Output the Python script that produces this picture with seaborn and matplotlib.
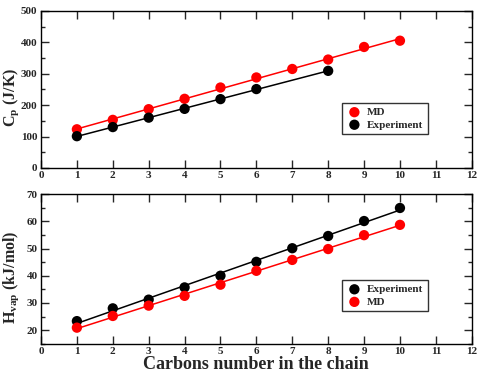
import numpy as np
import matplotlib
matplotlib.use('Agg')
import matplotlib.pyplot as plt
from matplotlib.ticker import MultipleLocator
import seaborn as sns

# heat capacity
cp_md_x = [1, 2, 3, 4, 5, 6, 7, 8, 9, 10]
cp_md = [123, 153, 187, 220, 256, 288, 315, 345, 385, 405]
cp_exp_x = [1, 2, 3, 4, 5, 6, 8]
cp_exp = [101, 130, 160, 188, 219, 251, 309]

# heat of vaporization
hv_x = [1, 2, 3, 4, 5, 6, 7, 8, 9, 10]
hv_exp = [23.3, 28.0, 31.2, 35.7, 40.0, 45.1, 50.1, 54.6, 60.1, 64.9]
hv_md = [20.9, 25.2, 29.0, 32.6, 36.7, 41.8, 45.8, 49.8, 54.9, 58.7]

sns.set_style('ticks')
plt.rcParams['font.family'] = ['Liberation Serif', 'DejaVu Serif']
plt.rcParams['font.weight'] = 'bold'
plt.rcParams['mathtext.fontset'] = 'custom'
plt.rcParams['mathtext.rm'] = 'Liberation Serif:bold'
plt.rcParams['mathtext.it'] = 'Liberation Serif:bold'
plt.rcParams['mathtext.bf'] = 'Liberation Serif:bold'

fig = plt.figure(figsize=(4.84, 3.74), dpi=100)
ax1 = fig.add_axes([0.0847, 0.551, 0.890, 0.420])
ax2 = fig.add_axes([0.0847, 0.081, 0.890, 0.400])


def draw(ax, x, y, color, label):
    slope, icpt = np.polyfit(x, y, 1)
    xs = np.array([min(x), max(x)])
    sns.lineplot(x=xs, y=slope * xs + icpt, color=color, lw=1.1, ax=ax)
    sns.scatterplot(x=x, y=y, color=color, s=55, edgecolor='none',
                    label=label, ax=ax, zorder=3)


draw(ax1, cp_md_x, cp_md, 'red', 'MD')
draw(ax1, cp_exp_x, cp_exp, 'black', 'Experiment')
draw(ax2, hv_x, hv_exp, 'black', 'Experiment')
draw(ax2, hv_x, hv_md, 'red', 'MD')

ax1.set_ylim(0, 500)
ax1.yaxis.set_major_locator(MultipleLocator(100))
ax1.yaxis.set_minor_locator(MultipleLocator(50))
ax2.set_ylim(15, 70)
ax2.set_yticks([20, 30, 40, 50, 60, 70])
ax2.yaxis.set_minor_locator(MultipleLocator(5))

for ax in (ax1, ax2):
    ax.set_xlim(0, 12)
    ax.xaxis.set_major_locator(MultipleLocator(1))
    ax.tick_params(which='both', direction='in', top=True, right=True,
                   labelsize=8, width=1, pad=2.5)
    ax.tick_params(which='major', length=6)
    ax.tick_params(which='minor', length=3)
    for sp in ax.spines.values():
        sp.set_linewidth(1)
        sp.set_color('black')
    leg = ax.legend(loc='lower left', bbox_to_anchor=(0.685, 0.18),
                    fontsize=8, frameon=True, fancybox=False,
                    handletextpad=0.4, borderpad=0.4, labelspacing=0.25,
                    handlelength=1.5)
    leg.get_frame().set_edgecolor('black')
    leg.get_frame().set_linewidth(1)

ax1.set_ylabel('C$_\\mathrm{p}$ (J/K)', fontsize=11.5, fontweight='bold')
ax2.set_ylabel('H$_\\mathrm{vap}$ (kJ/mol)', fontsize=11.5, fontweight='bold')
ax1.yaxis.set_label_coords(-0.047, 0.45)
ax2.yaxis.set_label_coords(-0.047, 0.445)
ax2.set_xlabel('Carbons number in the chain', fontsize=13, fontweight='bold', labelpad=0)

fig.savefig('out.png', dpi=100)
